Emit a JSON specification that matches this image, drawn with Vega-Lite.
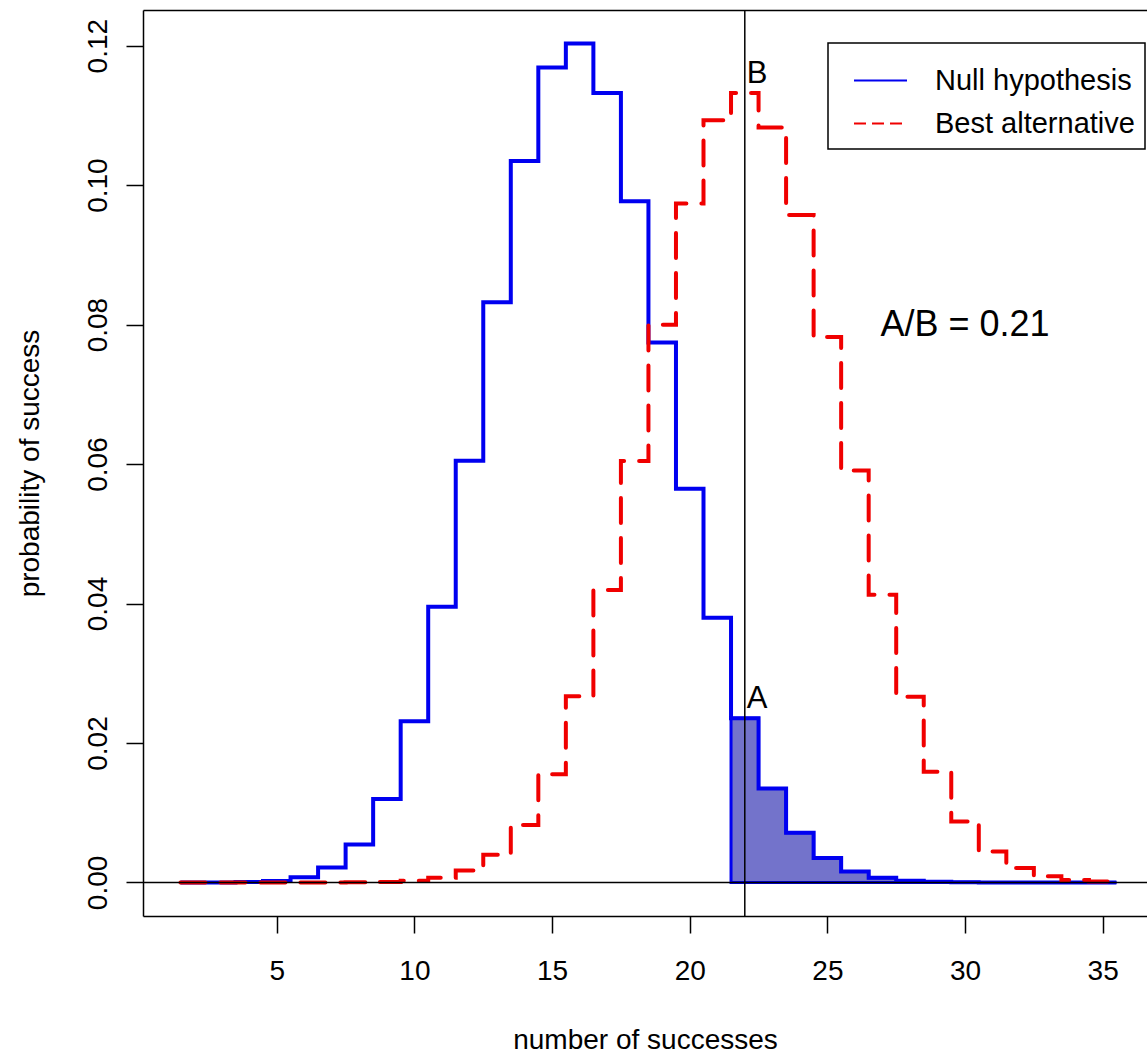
{
  "$schema": "https://vega.github.io/schema/vega-lite/v6.json",
  "width": 1004,
  "height": 906,
  "autosize": {"type": "none"},
  "padding": {"left": 143, "top": 10, "right": 0, "bottom": 139},
  "background": "white",
  "config": {
    "font": "Liberation Sans",
    "view": {"stroke": null},
    "axis": {
      "grid": false,
      "domainColor": "black",
      "domainWidth": 1.5,
      "tickColor": "black",
      "tickWidth": 1.5,
      "tickSize": 17,
      "labelColor": "black",
      "titleColor": "black",
      "labelFont": "Liberation Sans",
      "titleFont": "Liberation Sans",
      "labelFontSize": 28,
      "titleFontSize": 28,
      "titleFontWeight": "normal"
    }
  },
  "datasets": {
    "dist": [
      {"k": 1.5, "p": 0.0000012, "series": "Null hypothesis"},
      {"k": 2, "p": 0.0000012, "series": "Null hypothesis"},
      {"k": 3, "p": 0.0000088, "series": "Null hypothesis"},
      {"k": 4, "p": 0.0000477, "series": "Null hypothesis"},
      {"k": 5, "p": 0.000206, "series": "Null hypothesis"},
      {"k": 6, "p": 0.000729, "series": "Null hypothesis"},
      {"k": 7, "p": 0.002156, "series": "Null hypothesis"},
      {"k": 8, "p": 0.005453, "series": "Null hypothesis"},
      {"k": 9, "p": 0.01198, "series": "Null hypothesis"},
      {"k": 10, "p": 0.02311, "series": "Null hypothesis"},
      {"k": 11, "p": 0.03955, "series": "Null hypothesis"},
      {"k": 12, "p": 0.06048, "series": "Null hypothesis"},
      {"k": 13, "p": 0.0832, "series": "Null hypothesis"},
      {"k": 14, "p": 0.10347, "series": "Null hypothesis"},
      {"k": 15, "p": 0.11686, "series": "Null hypothesis"},
      {"k": 16, "p": 0.1203, "series": "Null hypothesis"},
      {"k": 17, "p": 0.11322, "series": "Null hypothesis"},
      {"k": 18, "p": 0.09768, "series": "Null hypothesis"},
      {"k": 19, "p": 0.07742, "series": "Null hypothesis"},
      {"k": 20, "p": 0.05647, "series": "Null hypothesis"},
      {"k": 21, "p": 0.03796, "series": "Null hypothesis"},
      {"k": 22, "p": 0.02355, "series": "Null hypothesis"},
      {"k": 23, "p": 0.01349, "series": "Null hypothesis"},
      {"k": 24, "p": 0.00714, "series": "Null hypothesis"},
      {"k": 25, "p": 0.0035, "series": "Null hypothesis"},
      {"k": 26, "p": 0.00158, "series": "Null hypothesis"},
      {"k": 27, "p": 0.000662, "series": "Null hypothesis"},
      {"k": 28, "p": 0.000256, "series": "Null hypothesis"},
      {"k": 29, "p": 0.0000913, "series": "Null hypothesis"},
      {"k": 30, "p": 0.0000301, "series": "Null hypothesis"},
      {"k": 31, "p": 0.0000091, "series": "Null hypothesis"},
      {"k": 32, "p": 0.0000025, "series": "Null hypothesis"},
      {"k": 33, "p": 0.0000006, "series": "Null hypothesis"},
      {"k": 34, "p": 0.0000001, "series": "Null hypothesis"},
      {"k": 35, "p": 0.0, "series": "Null hypothesis"},
      {"k": 35.5, "p": 0.0, "series": "Null hypothesis"},
      {"k": 1.5, "p": 0.0, "series": "Best alternative"},
      {"k": 2, "p": 0.0, "series": "Best alternative"},
      {"k": 3, "p": 0.0, "series": "Best alternative"},
      {"k": 4, "p": 0.0000001, "series": "Best alternative"},
      {"k": 5, "p": 0.0000005, "series": "Best alternative"},
      {"k": 6, "p": 0.0000016, "series": "Best alternative"},
      {"k": 7, "p": 0.0000052, "series": "Best alternative"},
      {"k": 8, "p": 0.00002, "series": "Best alternative"},
      {"k": 9, "p": 0.0000735, "series": "Best alternative"},
      {"k": 10, "p": 0.000237, "series": "Best alternative"},
      {"k": 11, "p": 0.000676, "series": "Best alternative"},
      {"k": 12, "p": 0.001727, "series": "Best alternative"},
      {"k": 13, "p": 0.003966, "series": "Best alternative"},
      {"k": 14, "p": 0.008236, "series": "Best alternative"},
      {"k": 15, "p": 0.01553, "series": "Best alternative"},
      {"k": 16, "p": 0.02669, "series": "Best alternative"},
      {"k": 17, "p": 0.04195, "series": "Best alternative"},
      {"k": 18, "p": 0.06042, "series": "Best alternative"},
      {"k": 19, "p": 0.07996, "series": "Best alternative"},
      {"k": 20, "p": 0.09738, "series": "Best alternative"},
      {"k": 21, "p": 0.1093, "series": "Best alternative"},
      {"k": 22, "p": 0.1132, "series": "Best alternative"},
      {"k": 23, "p": 0.10828, "series": "Best alternative"},
      {"k": 24, "p": 0.09571, "series": "Best alternative"},
      {"k": 25, "p": 0.07821, "series": "Best alternative"},
      {"k": 26, "p": 0.05909, "series": "Best alternative"},
      {"k": 27, "p": 0.04127, "series": "Best alternative"},
      {"k": 28, "p": 0.02664, "series": "Best alternative"},
      {"k": 29, "p": 0.01588, "series": "Best alternative"},
      {"k": 30, "p": 0.008733, "series": "Best alternative"},
      {"k": 31, "p": 0.004427, "series": "Best alternative"},
      {"k": 32, "p": 0.002065, "series": "Best alternative"},
      {"k": 33, "p": 0.000885, "series": "Best alternative"},
      {"k": 34, "p": 0.000348, "series": "Best alternative"},
      {"k": 35, "p": 0.000125, "series": "Best alternative"},
      {"k": 35.5, "p": 0.000125, "series": "Best alternative"}
    ],
    "tail": [
      {"k": 21.5, "p": 0.02355},
      {"k": 22, "p": 0.02355},
      {"k": 23, "p": 0.01349},
      {"k": 24, "p": 0.00714},
      {"k": 25, "p": 0.0035},
      {"k": 26, "p": 0.00158},
      {"k": 27, "p": 0.000662},
      {"k": 28, "p": 0.000256},
      {"k": 29, "p": 0.0000913},
      {"k": 30, "p": 0.0000301},
      {"k": 31, "p": 0.0000091},
      {"k": 32, "p": 0.0000025},
      {"k": 33, "p": 0.0000006},
      {"k": 34, "p": 0.0000001},
      {"k": 35, "p": 0.0},
      {"k": 35.5, "p": 0.0}
    ],
    "marks": [
      {"x": 22, "y": 0.02355, "label": "A"},
      {"x": 22, "y": 0.1132, "label": "B"}
    ],
    "ratio": [
      {"x": 30, "y": 0.08, "label": "A/B = 0.21"}
    ],
    "cut": [
      {"x": 22, "y": 0}
    ]
  },
  "resolve": {"axis": {"x": "independent", "y": "independent"}},
  "layer": [
    {
      "data": {"name": "tail"},
      "mark": {"type": "area", "interpolate": "step", "fill": "#0000a0", "fillOpacity": 0.55, "stroke": "#0000f0", "strokeWidth": 3},
      "encoding": {
        "x": {
          "field": "k", "type": "quantitative",
          "scale": {"domain": [0.14, 36.61], "nice": false, "zero": false},
          "axis": {
            "orient": "bottom",
            "values": [5, 10, 15, 20, 25, 30, 35],
            "labelBaseline": "alphabetic",
            "labelPadding": 46,
            "labelFlush": false,
            "labelOverlap": false,
            "title": "number of successes",
            "titleBaseline": "alphabetic",
            "titleY": 132
          }
        },
        "y": {
          "field": "p", "type": "quantitative",
          "scale": {"domain": [-0.004812, 0.125112], "nice": false, "zero": false},
          "axis": {
            "orient": "left",
            "values": [0, 0.02, 0.04, 0.06, 0.08, 0.1, 0.12],
            "format": ".2f",
            "labelAngle": 270,
            "labelAlign": "center",
            "labelBaseline": "alphabetic",
            "labelPadding": 20,
            "labelFlush": false,
            "labelOverlap": false,
            "title": "probability of success",
            "titleAngle": 270,
            "titleBaseline": "alphabetic",
            "titleAlign": "center",
            "titleX": -105,
            "titleY": 453
          }
        },
        "y2": {"datum": 0}
      }
    },
    {
      "data": {"name": "dist"},
      "transform": [{"filter": "datum.series === 'Null hypothesis'"}],
      "mark": {"type": "line", "interpolate": "step", "strokeWidth": 4, "strokeJoin": "miter"},
      "encoding": {
        "x": {"field": "k", "type": "quantitative", "axis": {"orient": "top", "labels": false, "ticks": false, "title": null, "domain": true}},
        "y": {"field": "p", "type": "quantitative", "axis": null},
        "color": {
          "field": "series", "type": "nominal",
          "scale": {"domain": ["Null hypothesis", "Best alternative"], "range": ["#0000f0", "#f00000"]},
          "legend": {
            "title": null,
            "orient": "none",
            "legendX": 685,
            "legendY": 33,
            "symbolType": "stroke",
            "symbolSize": 2809,
            "symbolStrokeWidth": 2,
            "symbolOffset": 15,
            "labelOffset": 27,
            "labelFont": "Liberation Sans",
            "labelFontSize": 29,
            "labelColor": "black",
            "labelLimit": 400,
            "padding": 10,
            "rowPadding": -17,
            "strokeColor": "black",
            "fillColor": "white",
            "encode": {
              "symbols": {"update": {"strokeDash": {"signal": "datum.value === 'Best alternative' ? [12, 6] : [1, 0]"}}},
              "legend": {"update": {"strokeWidth": {"value": 1.5}}}
            }
          }
        }
      }
    },
    {
      "data": {"name": "dist"},
      "transform": [{"filter": "datum.series === 'Best alternative'"}],
      "mark": {"type": "line", "interpolate": "step", "strokeWidth": 4, "strokeDash": [25, 15], "strokeCap": "round"},
      "encoding": {
        "x": {"field": "k", "type": "quantitative", "axis": null},
        "y": {"field": "p", "type": "quantitative", "axis": null},
        "color": {"field": "series", "type": "nominal"}
      }
    },
    {
      "data": {"name": "cut"},
      "mark": {"type": "rule", "color": "black", "strokeWidth": 1.5},
      "encoding": {
        "x": {"field": "x", "type": "quantitative", "axis": null}
      }
    },
    {
      "data": {"name": "cut"},
      "mark": {"type": "rule", "color": "black", "strokeWidth": 1.5},
      "encoding": {
        "y": {"field": "y", "type": "quantitative", "axis": null}
      }
    },
    {
      "data": {"name": "marks"},
      "mark": {"type": "text", "font": "Liberation Sans", "fontSize": 31, "color": "black", "align": "left", "baseline": "alphabetic", "dx": 2, "dy": -10},
      "encoding": {
        "x": {"field": "x", "type": "quantitative", "axis": null},
        "y": {"field": "y", "type": "quantitative", "axis": null},
        "text": {"field": "label"}
      }
    },
    {
      "data": {"name": "ratio"},
      "mark": {"type": "text", "font": "Liberation Sans", "fontSize": 36, "color": "black", "align": "center", "baseline": "middle"},
      "encoding": {
        "x": {"field": "x", "type": "quantitative", "axis": null},
        "y": {"field": "y", "type": "quantitative", "axis": null},
        "text": {"field": "label"}
      }
    }
  ]
}
